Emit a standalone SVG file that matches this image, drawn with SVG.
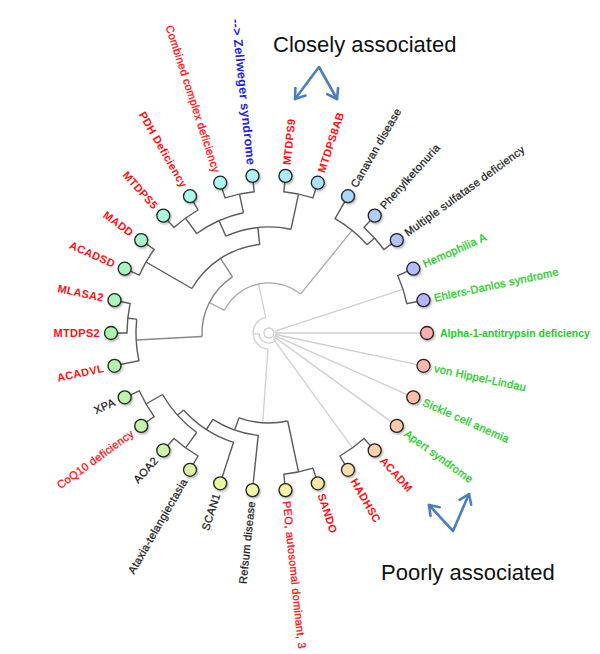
<svg xmlns="http://www.w3.org/2000/svg" width="600" height="654" viewBox="0 0 600 654">
<defs>
<filter id="sh" x="-50%" y="-50%" width="200%" height="200%"><feDropShadow dx="1.2" dy="1.5" stdDeviation="0.9" flood-color="#000" flood-opacity="0.3"/></filter>
</defs>
<style>
.d{fill:none;stroke:#5a5a5a;stroke-width:1.4}
.m1{fill:none;stroke:#888;stroke-width:1.4}
.m2{fill:none;stroke:#a8a8a8;stroke-width:1.3}
.l{fill:none;stroke:#cfcfcf;stroke-width:1.3}
.lf{stroke:#222;stroke-width:1.3;filter:url(#sh)}
text{font-family:"Liberation Sans",Arial,sans-serif;font-size:11px;letter-spacing:0.3px}
.r{fill:#ff1010;font-weight:bold}
.rn{fill:#ff1010;stroke:#ff1010;stroke-width:0.3}
.k{fill:#1a1a1a;stroke:#1a1a1a;stroke-width:0.25}
.g{fill:#22cc22;stroke:#22cc22;stroke-width:0.3}
.gb{fill:#22cc22;font-weight:bold;font-size:10.5px;letter-spacing:0}
.b{fill:#2222ee;font-weight:bold;font-size:12.5px}
.big{font-size:22px;fill:#111;letter-spacing:0}
.arw{fill:none;stroke:#4a7ebf;stroke-width:2.6;stroke-linecap:round;stroke-linejoin:round}
</style>
<rect width="600" height="654" fill="#fff"/>
<g id="connectors">
<circle cx="269" cy="333" r="5" fill="#fff" stroke="#cfcfcf" stroke-width="1.3"/>
<path class="l" d="M265.7,317.4 A16,16 0 0 0 267.9,349"/>
<path class="l" d="M253,334.1 L259,333.7 A10,10 0 0 0 274.9,341.1"/>
<path class="l" d="M275.7,330.8 A7,7 0 0 1 273.1,338.7"/>
<path class="l" d="M276,333 L427,333"/>
<path class="l" d="M275.8,334.5 L423.5,365.8"/>
<path class="l" d="M275.4,335.8 L413.3,397.3"/>
<path class="l" d="M274.7,337.1 L396.8,425.9"/>
<path class="l" d="M273.1,338.7 L352.5,447.9"/>
<path class="l" d="M275.7,330.8 L403.1,289.4"/>
<path class="l" d="M265.7,317.4 L258.6,284.1"/>
<path class="l" d="M267.9,349 L262.7,422.8"/>
<path class="m2" d="M224.4,310.3 A50,50 0 0 1 300.5,294.1"/>
<path class="m2" d="M209.3,302.6 L224.4,310.3"/>
<path class="m2" d="M352.1,230.4 L300.5,294.1"/>
<path class="m1" d="M202.1,336.5 A67,67 0 0 1 232.5,276.8"/>
<path class="m1" d="M136.2,340 L202.1,336.5"/>
<path class="m1" d="M220.5,258.4 L232.5,276.8"/>
<path class="d" d="M191.9,288.5 A89,89 0 0 1 259.7,244.5"/>
<path class="d" d="M146,262 L191.9,288.5"/>
<path class="d" d="M257.9,227.6 L259.7,244.5"/>
<path class="d" d="M225.9,236.2 A106,106 0 0 1 291,229.3"/>
<path class="d" d="M219,220.6 L225.9,236.2"/>
<path class="d" d="M298.5,194.1 L291,229.3"/>
<path class="d" d="M196.7,233.5 A123,123 0 0 1 243.4,212.7"/>
<path class="d" d="M185.5,218.1 L196.7,233.5"/>
<path class="d" d="M239.5,194.1 L243.4,212.7"/>
<path class="d" d="M163.3,215.6 L174,227.5 A142,142 0 0 1 198,210 L190,196.2"/>
<path class="d" d="M220.2,182.7 L225.1,197.9 A142,142 0 0 1 254.2,191.8 L252.5,175.9"/>
<path class="d" d="M285.5,175.9 L283.8,191.8 A142,142 0 0 1 312.9,197.9 L317.8,182.7"/>
<path class="d" d="M124.7,268.7 L139.3,275.2 A142,142 0 0 1 154.1,249.5 L141.2,240.1"/>
<path class="d" d="M111,333 L127,333 A142,142 0 0 1 130.1,303.5 L114.5,300.2"/>
<path class="d" d="M127.8,318.2 L136.7,319.1"/>
<path class="d" d="M114.5,365.8 L138.9,360.7 A133,133 0 0 1 136.7,319.1"/>
<path class="d" d="M374.7,215.6 L364,227.5 A142,142 0 0 1 383.9,249.5 L396.8,240.1"/>
<path class="d" d="M374.5,238 L367.1,244.7"/>
<path class="d" d="M348,196.2 L335,218.7 A132,132 0 0 1 367.1,244.7"/>
<path class="d" d="M413.3,268.7 L397.8,275.7 A141,141 0 0 1 406.9,303.7 L423.5,300.2"/>
<path class="d" d="M374.7,450.4 L364,438.5 A142,142 0 0 1 340,456 L348,469.8"/>
<path class="d" d="M317.8,483.3 L312.9,468.1 A142,142 0 0 1 283.8,474.2 L285.5,490.1"/>
<path class="d" d="M298.5,471.9 L287.7,421"/>
<path class="d" d="M287.7,421 A90,90 0 0 1 239,417.8"/>
<path class="d" d="M234.6,430.1 L239,417.8"/>
<path class="d" d="M252.5,490.1 L258.2,435.4 A103,103 0 0 1 212.9,419.4"/>
<path class="d" d="M206.4,429.5 L212.9,419.4"/>
<path class="d" d="M220.2,483.3 L233.5,442.4 A115,115 0 0 1 183.5,410"/>
<path class="d" d="M177.6,415.3 L183.5,410"/>
<path class="d" d="M196.7,432.5 A123,123 0 0 1 162.5,394.5"/>
<path class="d" d="M185.5,447.9 L196.7,432.5"/>
<path class="d" d="M146,404 L162.5,394.5"/>
<path class="d" d="M190,469.8 L198,456 A142,142 0 0 1 174,438.5 L163.3,450.4"/>
<path class="d" d="M141.2,425.9 L154.1,416.5 A142,142 0 0 1 139.3,390.8 L124.7,397.3"/>
</g>
<g id="n-alpha1"><circle class="lf" cx="427" cy="333" r="6.5" fill="hsl(0,85%,83%)"/><text class="gb" x="440" y="333" dy="0.35em">Alpha-1-antitrypsin deficiency</text></g>
<g id="n-ehlers"><circle class="lf" cx="423.5" cy="300.2" r="6.5" fill="hsl(240,85%,84%)"/><text class="g" transform="translate(434.3,297.9) rotate(-12)" dy="0.35em">Ehlers-Danlos syndrome</text></g>
<g id="n-hemophilia"><circle class="lf" cx="413.3" cy="268.7" r="6.5" fill="hsl(232,85%,84%)"/><text class="g" transform="translate(423.4,264.3) rotate(-24)" dy="0.35em">Hemophilia A</text></g>
<g id="n-mult"><circle class="lf" cx="396.8" cy="240.1" r="6.5" fill="hsl(223,85%,83%)"/><text class="k" transform="translate(405.7,233.7) rotate(-36)" dy="0.35em">Multiple sulfatase deficiency</text></g>
<g id="n-pku"><circle class="lf" cx="374.7" cy="215.6" r="6.5" fill="hsl(215,85%,83%)"/><text class="k" transform="translate(382.1,207.4) rotate(-48)" dy="0.35em">Phenylketonuria</text></g>
<g id="n-canavan"><circle class="lf" cx="348" cy="196.2" r="6.5" fill="hsl(205,85%,82%)"/><text class="k" transform="translate(353.5,186.6) rotate(-60)" dy="0.35em">Canavan disease</text></g>
<g id="n-mtdps8ab"><circle class="lf" cx="317.8" cy="182.7" r="6.5" fill="hsl(196,85%,82%)"/><text class="r" transform="translate(321.2,172.3) rotate(-72)" dy="0.35em">MTDPS8AB</text></g>
<g id="n-mtdps9"><circle class="lf" cx="285.5" cy="175.9" r="6.5" fill="hsl(189,85%,82%)"/><text class="r" transform="translate(286.7,164.9) rotate(-84)" dy="0.35em">MTDPS9</text></g>
<g id="n-zellweger"><circle class="lf" cx="252.5" cy="175.9" r="6.5" fill="hsl(183,85%,82%)"/><text class="b" text-anchor="end" transform="translate(251.3,164.9) rotate(84)" dy="0.35em">--&gt; Zellweger syndrome</text></g>
<g id="n-combined"><circle class="lf" cx="220.2" cy="182.7" r="6.5" fill="hsl(177,85%,82%)"/><text class="rn" text-anchor="end" transform="translate(216.8,172.3) rotate(72)" dy="0.35em">Combined complex deficiency</text></g>
<g id="n-pdh"><circle class="lf" cx="190" cy="196.2" r="6.5" fill="hsl(166,85%,82%)"/><text class="r" text-anchor="end" transform="translate(184.5,186.6) rotate(60)" dy="0.35em">PDH Deficiency</text></g>
<g id="n-mtdps5"><circle class="lf" cx="163.3" cy="215.6" r="6.5" fill="hsl(158,85%,82%)"/><text class="r" text-anchor="end" transform="translate(155.9,207.4) rotate(48)" dy="0.35em">MTDPS5</text></g>
<g id="n-madd"><circle class="lf" cx="141.2" cy="240.1" r="6.5" fill="hsl(148,80%,81%)"/><text class="r" text-anchor="end" transform="translate(132.3,233.7) rotate(36)" dy="0.35em">MADD</text></g>
<g id="n-acadsd"><circle class="lf" cx="124.7" cy="268.7" r="6.5" fill="hsl(140,80%,81%)"/><text class="r" text-anchor="end" transform="translate(114.6,264.3) rotate(24)" dy="0.35em">ACADSD</text></g>
<g id="n-mlasa2"><circle class="lf" cx="114.5" cy="300.2" r="6.5" fill="hsl(132,80%,81%)"/><text class="r" text-anchor="end" transform="translate(103.7,297.9) rotate(12)" dy="0.35em">MLASA2</text></g>
<g id="n-mtdps2"><circle class="lf" cx="111" cy="333" r="6.5" fill="hsl(122,80%,81%)"/><text class="r" text-anchor="end" x="100" y="333" dy="0.35em">MTDPS2</text></g>
<g id="n-acadvl"><circle class="lf" cx="114.5" cy="365.8" r="6.5" fill="hsl(114,80%,81%)"/><text class="r" text-anchor="end" transform="translate(103.7,368.1) rotate(-12)" dy="0.35em">ACADVL</text></g>
<g id="n-xpa"><circle class="lf" cx="124.7" cy="397.3" r="6.5" fill="hsl(106,80%,81%)"/><text class="k" text-anchor="end" transform="translate(114.6,401.7) rotate(-24)" dy="0.35em">XPA</text></g>
<g id="n-coq10"><circle class="lf" cx="141.2" cy="425.9" r="6.5" fill="hsl(98,80%,81%)"/><text class="rn" text-anchor="end" transform="translate(132.3,432.3) rotate(-36)" dy="0.35em">CoQ10 deficiency</text></g>
<g id="n-aoa2"><circle class="lf" cx="163.3" cy="450.4" r="6.5" fill="hsl(90,80%,81%)"/><text class="k" text-anchor="end" transform="translate(155.9,458.6) rotate(-48)" dy="0.35em">AOA2</text></g>
<g id="n-ataxia"><circle class="lf" cx="190" cy="469.8" r="6.5" fill="hsl(80,80%,80%)"/><text class="k" text-anchor="end" transform="translate(184.5,479.4) rotate(-60)" dy="0.35em">Ataxia-telangiectasia</text></g>
<g id="n-scan1"><circle class="lf" cx="220.2" cy="483.3" r="6.5" fill="hsl(70,82%,80%)"/><text class="k" text-anchor="end" transform="translate(216.8,493.7) rotate(-72)" dy="0.35em">SCAN1</text></g>
<g id="n-refsum"><circle class="lf" cx="252.5" cy="490.1" r="6.5" fill="hsl(63,82%,80%)"/><text class="k" text-anchor="end" transform="translate(251.3,501.1) rotate(-84)" dy="0.35em">Refsum disease</text></g>
<g id="n-peo"><circle class="lf" cx="285.5" cy="490.1" r="6.5" fill="hsl(56,85%,81%)"/><text class="rn" transform="translate(286.7,501.1) rotate(84)" dy="0.35em">PEO, autosomal dominant, 3</text></g>
<g id="n-sando"><circle class="lf" cx="317.8" cy="483.3" r="6.5" fill="hsl(48,88%,81%)"/><text class="r" transform="translate(321.2,493.7) rotate(72)" dy="0.35em">SANDO</text></g>
<g id="n-hadhsc"><circle class="lf" cx="348" cy="469.8" r="6.5" fill="hsl(40,88%,82%)"/><text class="r" transform="translate(353.5,479.4) rotate(60)" dy="0.35em">HADHSC</text></g>
<g id="n-acadm"><circle class="lf" cx="374.7" cy="450.4" r="6.5" fill="hsl(31,88%,82%)"/><text class="r" transform="translate(382.1,458.6) rotate(48)" dy="0.35em">ACADM</text></g>
<g id="n-apert"><circle class="lf" cx="396.8" cy="425.9" r="6.5" fill="hsl(24,88%,82%)"/><text class="g" transform="translate(405.7,432.3) rotate(36)" dy="0.35em">Apert syndrome</text></g>
<g id="n-sickle"><circle class="lf" cx="413.3" cy="397.3" r="6.5" fill="hsl(16,88%,82%)"/><text class="g" transform="translate(423.4,401.7) rotate(24)" dy="0.35em">Sickle cell anemia</text></g>
<g id="n-vhl"><circle class="lf" cx="423.5" cy="365.8" r="6.5" fill="hsl(8,88%,83%)"/><text class="g" transform="translate(434.3,368.1) rotate(12)" dy="0.35em">von Hippel-Lindau</text></g>
<g id="note-close">
<text class="big" x="273" y="52">Closely associated</text>
<path class="arw" d="M295,99 L319,67 L337,99"/>
<path class="arw" d="M295.4,88 L295,99 L305.5,95.6"/>
<path class="arw" d="M338.1,88 L337,99 L327.1,94.2"/>
</g>
<g id="note-poor">
<text class="big" x="381" y="580">Poorly associated</text>
<path class="arw" d="M429,505 L453,531 L469,494"/>
<path class="arw" d="M430.5,515.9 L429,505 L439.7,507.3"/>
<path class="arw" d="M459.6,499.8 L469,494 L471.2,504.8"/>
</g>
</svg>
